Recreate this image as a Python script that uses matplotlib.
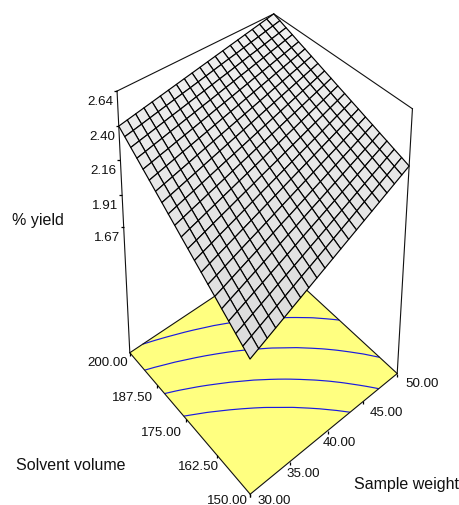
import matplotlib
matplotlib.use("Agg")
import matplotlib.pyplot as plt
import numpy as np
from matplotlib.colors import LinearSegmentedColormap
from mpl_toolkits.mplot3d import proj3d

W_FIG, H_FIG = 459, 506

# Ejes de la malla
PESO = [30, 31, 32, 33, 34, 35, 36, 37, 38, 39, 40, 41, 42, 43, 44, 45, 46, 47, 48, 49, 50]
SOLVENTE = [150, 152.5, 155, 157.5, 160, 162.5, 165, 167.5, 170, 172.5, 175, 177.5, 180,
            182.5, 185, 187.5, 190, 192.5, 195, 197.5, 200]

RENDIMIENTO = [
    [1.670, 1.699, 1.728, 1.757, 1.786, 1.815, 1.844, 1.873, 1.902, 1.931, 1.960, 1.989, 2.018, 2.047, 2.076, 2.105, 2.134, 2.163, 2.192, 2.221, 2.250],
    [1.707, 1.735, 1.763, 1.791, 1.819, 1.847, 1.875, 1.904, 1.932, 1.960, 1.988, 2.016, 2.044, 2.072, 2.101, 2.129, 2.157, 2.185, 2.213, 2.241, 2.270],
    [1.743, 1.770, 1.798, 1.825, 1.852, 1.880, 1.907, 1.934, 1.961, 1.989, 2.016, 2.043, 2.071, 2.098, 2.125, 2.153, 2.180, 2.207, 2.234, 2.262, 2.289],
    [1.780, 1.806, 1.832, 1.859, 1.885, 1.912, 1.938, 1.965, 1.991, 2.018, 2.044, 2.070, 2.097, 2.123, 2.150, 2.176, 2.203, 2.229, 2.256, 2.282, 2.309],
    [1.816, 1.842, 1.867, 1.893, 1.918, 1.944, 1.970, 1.995, 2.021, 2.046, 2.072, 2.098, 2.123, 2.149, 2.174, 2.200, 2.226, 2.251, 2.277, 2.302, 2.328],
    [1.853, 1.877, 1.902, 1.927, 1.952, 1.976, 2.001, 2.026, 2.051, 2.075, 2.100, 2.125, 2.150, 2.174, 2.199, 2.224, 2.249, 2.273, 2.298, 2.323, 2.348],
    [1.889, 1.913, 1.937, 1.961, 1.985, 2.009, 2.032, 2.056, 2.080, 2.104, 2.128, 2.152, 2.176, 2.200, 2.224, 2.248, 2.271, 2.295, 2.319, 2.343, 2.367],
    [1.926, 1.949, 1.972, 1.995, 2.018, 2.041, 2.064, 2.087, 2.110, 2.133, 2.156, 2.179, 2.202, 2.225, 2.248, 2.271, 2.294, 2.317, 2.340, 2.363, 2.387],
    [1.962, 1.984, 2.006, 2.029, 2.051, 2.073, 2.095, 2.117, 2.140, 2.162, 2.184, 2.206, 2.228, 2.251, 2.273, 2.295, 2.317, 2.339, 2.362, 2.384, 2.406],
    [1.999, 2.020, 2.041, 2.063, 2.084, 2.105, 2.127, 2.148, 2.169, 2.191, 2.212, 2.233, 2.255, 2.276, 2.297, 2.319, 2.340, 2.361, 2.383, 2.404, 2.426],
    [2.035, 2.056, 2.076, 2.097, 2.117, 2.138, 2.158, 2.179, 2.199, 2.220, 2.240, 2.261, 2.281, 2.302, 2.322, 2.343, 2.363, 2.384, 2.404, 2.425, 2.445],
    [2.072, 2.091, 2.111, 2.130, 2.150, 2.170, 2.189, 2.209, 2.229, 2.248, 2.268, 2.288, 2.307, 2.327, 2.347, 2.366, 2.386, 2.406, 2.425, 2.445, 2.465],
    [2.108, 2.127, 2.146, 2.164, 2.183, 2.202, 2.221, 2.240, 2.258, 2.277, 2.296, 2.315, 2.334, 2.352, 2.371, 2.390, 2.409, 2.428, 2.446, 2.465, 2.484],
    [2.145, 2.162, 2.180, 2.198, 2.216, 2.234, 2.252, 2.270, 2.288, 2.306, 2.324, 2.342, 2.360, 2.378, 2.396, 2.414, 2.432, 2.450, 2.468, 2.486, 2.504],
    [2.181, 2.198, 2.215, 2.232, 2.249, 2.267, 2.284, 2.301, 2.318, 2.335, 2.352, 2.369, 2.386, 2.403, 2.420, 2.438, 2.455, 2.472, 2.489, 2.506, 2.523],
    [2.218, 2.234, 2.250, 2.266, 2.283, 2.299, 2.315, 2.331, 2.348, 2.364, 2.380, 2.396, 2.413, 2.429, 2.445, 2.461, 2.478, 2.494, 2.510, 2.526, 2.543],
    [2.254, 2.269, 2.285, 2.300, 2.316, 2.331, 2.346, 2.362, 2.377, 2.393, 2.408, 2.423, 2.439, 2.454, 2.470, 2.485, 2.500, 2.516, 2.531, 2.547, 2.562],
    [2.291, 2.305, 2.320, 2.334, 2.349, 2.363, 2.378, 2.392, 2.407, 2.421, 2.436, 2.451, 2.465, 2.480, 2.494, 2.509, 2.523, 2.538, 2.552, 2.567, 2.582],
    [2.327, 2.341, 2.354, 2.368, 2.382, 2.396, 2.409, 2.423, 2.437, 2.450, 2.464, 2.478, 2.491, 2.505, 2.519, 2.533, 2.546, 2.560, 2.574, 2.587, 2.601],
    [2.364, 2.376, 2.389, 2.402, 2.415, 2.428, 2.441, 2.454, 2.466, 2.479, 2.492, 2.505, 2.518, 2.531, 2.543, 2.556, 2.569, 2.582, 2.595, 2.608, 2.621],
    [2.400, 2.412, 2.424, 2.436, 2.448, 2.460, 2.472, 2.484, 2.496, 2.508, 2.520, 2.532, 2.544, 2.556, 2.568, 2.580, 2.592, 2.604, 2.616, 2.628, 2.640],
]
NIVELES = [2.05, 2.17, 2.30, 2.42]
Z_PISO = 0.687
Z_TECHO = 2.64

TICKS_Z = [2.64, 2.40, 2.16, 1.91, 1.67]
TICKS_PESO = [30, 35, 40, 45, 50]
TICKS_SOLV = [200, 187.5, 175, 162.5, 150]

FUENTE = "Liberation Sans"
TAM_TICK = 9.65
TAM_EJE = 11.5

fig = plt.figure(figsize=(W_FIG / 100, H_FIG / 100), dpi=100)
# Vista descentrada: los limites se extienden mas alla de los datos para correr
# el punto de mira hacia arriba, como en la perspectiva del original
L, B, W = -543.36, -32.48, 1590.9
ax = fig.add_axes([L / W_FIG, B / H_FIG, W / W_FIG, W / H_FIG], projection="3d", computed_zorder=False)
ax.set_axis_off()

X, Y = np.meshgrid(PESO, SOLVENTE)
Z = np.array(RENDIMIENTO)
x0, x1, y0, y1 = PESO[0], PESO[-1], SOLVENTE[0], SOLVENTE[-1]
zf, zt = Z_PISO, Z_TECHO

# Piso amarillo con contornos
ax.plot_surface(np.array([[x0, x1], [x0, x1]]), np.array([[y0, y0], [y1, y1]]), np.full((2, 2), zf),
                color="#FFFF80", shade=False, linewidth=0, zorder=1)
ax.contour(X, Y, Z, levels=NIVELES, zdir="z", offset=zf, colors="#1a1ae0", linewidths=0.85, zorder=2)

# Caja
for a, b in [((x0, y0, zf), (x0, y1, zf)), ((x0, y0, zf), (x1, y0, zf)), ((x0, y1, zf), (x1, y1, zf)),
             ((x1, y0, zf), (x1, y1, zf)), ((x0, y1, zf), (x0, y1, zt)), ((x1, y0, zf), (x1, y0, zt)),
             ((x0, y1, zt), (x1, y1, zt)), ((x1, y0, zt), (x1, y1, zt))]:
    ax.plot(*zip(a, b), color="#111111", lw=0.8, zorder=3)

# Marcas de los ejes
ax.plot([x0] * len(TICKS_Z), [y1] * len(TICKS_Z), TICKS_Z, ls="none", marker=0, ms=2, mew=0.9, color="k", zorder=3)
ax.plot(TICKS_PESO, [y0] * 5, [zf] * 5, ls="none", marker=3, ms=2, mew=0.9, color="k", zorder=3)
ax.plot([x0] * 5, TICKS_SOLV, [zf] * 5, ls="none", marker=3, ms=2, mew=0.9, color="k", zorder=3)

# Superficie
gris = LinearSegmentedColormap.from_list("gris", ["#dbdbdb", "#f1f1f1"])
ax.plot_surface(X, Y, Z, rstride=1, cstride=1, cmap=gris, vmin=1.67, vmax=2.64, shade=False,
                edgecolor="#000000", linewidth=0.85, zorder=4)

ax.set_xlim(30, 57.88)
ax.set_ylim(150, 216.9)
ax.set_zlim(zf, 8.8623)
ax.set_box_aspect((1.394, 1.35539, 7.05345))
ax.view_init(19.762, -130.694, -0.372)
ax.set_proj_type("persp", focal_length=0.132)


def etiqueta(texto, x, y, z, dx, dy, ha):
    """Texto anclado a un punto 3D, corrido (dx, dy) pixeles."""
    u, v, _ = proj3d.proj_transform(x, y, z, ax.get_proj())
    ax.annotate(texto, xy=(u, v), xycoords="data", xytext=(dx, dy), textcoords="offset pixels",
                ha=ha, va="center", family=FUENTE, fontsize=TAM_TICK, color="#111111")


for z in TICKS_Z:
    etiqueta(f"{z:.2f}", x0, y1, z, -4, -10, "right")
for v, (dx, dy) in zip(TICKS_SOLV, [(-2, -9), (-4, -12), (-4, -13), (2, -11), (-2, -5.5)]):
    etiqueta(f"{v:.2f}", x0, v, zf, dx, dy, "right")
for v, (dx, dy) in zip(TICKS_PESO, [(7, -5.5), (-4, -11), (-5, -11), (6, -11), (8, -9)]):
    etiqueta(f"{v:.2f}", v, y0, zf, dx, dy, "left")

for texto, px, py in [("% yield", 11.7, 225), ("Solvent volume", 16, 470), ("Sample weight", 354, 489.3)]:
    fig.text(px / W_FIG, 1 - py / H_FIG, texto, ha="left", va="baseline", family=FUENTE,
             fontsize=TAM_EJE, color="#111111")

fig.savefig("out.png")
